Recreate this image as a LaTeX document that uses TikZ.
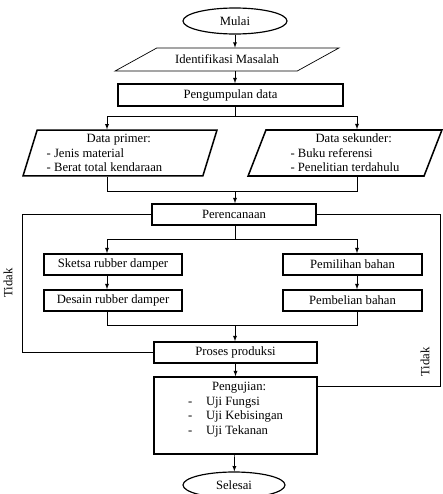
\documentclass[tikz,border=0pt]{standalone}
\usepackage{fontspec}
\setmainfont{Liberation Serif}
\usetikzlibrary{shapes.geometric}
\usetikzlibrary{positioning}

\tikzset{
    kotak/.style={draw, rectangle, line width=1.3pt, inner sep=2pt},
    oval/.style={draw, ellipse, line width=1pt, minimum width=3.12cm, minimum height=0.78cm},
    jajar/.style={draw, trapezium, trapezium stretches=true},
    garis/.style={line width=0.6pt}
}

\begin{document}
\begin{tikzpicture}[x=0.03cm, y=-0.03cm, font=\fontsize{10.8}{12.5}\selectfont, >=latex]
        \useasboundingbox (0,0) rectangle (443,494);

        % kolom untuk garis
        \coordinate (kiri) at (107,0);
        \coordinate (tengah) at (235,0);
        \coordinate (kanan) at (357,0);
        \coordinate (balikL) at (22,0);
        \coordinate (balikR) at (440,0);

        % awal
        \node[oval] (mulai) at (235,21) {Mulai};
        \node[jajar, line width=0.6pt, trapezium left angle=27, trapezium right angle=153,
              minimum width=6.72cm, minimum height=0.69cm] (ident) at (227,59.5) {Identifikasi Masalah};
        \node[kotak, minimum width=6.75cm, minimum height=0.66cm] (kumpul) at (230.5,95) {Pengumpulan data};

        % data
        \node[jajar, line width=1.3pt, trapezium left angle=74, trapezium right angle=106,
              minimum width=5.82cm, minimum height=1.26cm, align=left] (primer) at (120,153)
              {\hspace*{1.2cm}Data primer:\\- Jenis material\\- Berat total kendaraan\hspace*{0.93cm}};
        \node[jajar, line width=1.3pt, trapezium left angle=74, trapezium right angle=106,
              minimum width=5.82cm, minimum height=1.26cm, align=left] (sekunder) at (345,153)
              {\hspace*{0.75cm}Data sekunder:\\- Buku referensi\\- Penelitian terdahulu};

        % perencanaan
        \node[kotak, minimum width=4.92cm, minimum height=0.63cm] (plan) at (234,214.5) {Perencanaan};
        \node[kotak, minimum width=4.14cm, minimum height=0.63cm] (sketsa) at (113,264.5) {Sketsa rubber damper};
        \node[kotak, minimum width=4.14cm, minimum height=0.63cm] (desain) at (113,300.5) {Desain rubber damper};
        \node[kotak, minimum width=4.17cm, minimum height=0.63cm] (pilih) at (352.5,264.5) {Pemilihan bahan};
        \node[kotak, minimum width=4.17cm, minimum height=0.63cm] (beli) at (352.5,300.5) {Pembelian bahan};

        % produksi & uji
        \node[kotak, minimum width=4.89cm, minimum height=0.63cm] (proses) at (235.5,352.5) {Proses produksi};
        \node[kotak, minimum width=4.89cm, minimum height=2.31cm, align=left] (uji) at (235.5,415.5)
              {\hspace*{0.72cm}Pengujian:\\
               \makebox[0.54cm][l]{-}Uji Fungsi\\
               \makebox[0.54cm][l]{-}Uji Kebisingan\\
               \makebox[0.54cm][l]{-}Uji Tekanan\\ \mbox{}};
        \node[oval, minimum width=3.06cm] (selesai) at (234,485) {Selesai};

        \node[rotate=90] (tidakL) at (8,283) {Tidak};
        \node[rotate=90] (tidakR) at (425,362) {Tidak};

        % panah
        \draw[garis, ->] (mulai.south) -- (mulai.south |- ident.north);
        \draw[garis, ->] (tengah |- ident.south) -- (tengah |- kumpul.north);
        \draw[garis, ->] (tengah |- kumpul.south) -- ++(0,10) -| (kiri |- primer.north);
        \draw[garis, ->] (tengah |- kumpul.south) -- ++(0,10) -| (kanan |- sekunder.north);
        \draw[garis] (kiri |- primer.south) -- ++(0,15) -| (kanan |- sekunder.south);
        \draw[garis, ->] (tengah |- primer.south) ++(0,15) -- (tengah |- plan.north);

        \draw[garis, ->] (tengah |- plan.south) -- ++(0,14) -| (kiri |- sketsa.north);
        \draw[garis, ->] (tengah |- plan.south) -- ++(0,14) -| (kanan |- pilih.north);
        \draw[garis, ->] (kiri |- sketsa.south) -- (kiri |- desain.north);
        \draw[garis, ->] (kanan |- pilih.south) -- (kanan |- beli.north);
        \draw[garis] (kiri |- desain.south) -- ++(0,14) -| (kanan |- beli.south);
        \draw[garis, ->] (tengah |- desain.south) ++(0,14) -- (tengah |- proses.north);

        \draw[garis, ->] (proses) -- (uji);
        \draw[garis, ->] (uji) -- (selesai);

        % balik (tidak)
        \draw[garis] (proses.west) -| (balikL |- plan.west) -- (plan.west);
        \draw[garis] ([yshift=-0.3cm]uji.north east) -| (balikR |- plan.east) -- (plan.east);
\end{tikzpicture}
\end{document}
